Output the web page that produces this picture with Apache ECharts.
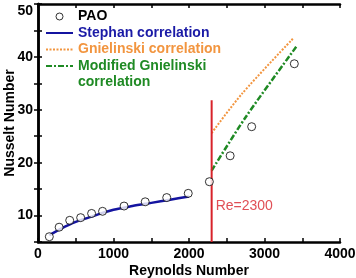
<!DOCTYPE html>
<html>
<head>
<meta charset="utf-8">
<script src="https://cdn.jsdelivr.net/npm/echarts@6/dist/echarts.min.js"></script>
<style>
  html, body { margin: 0; padding: 0; background: #fff; }
  #chart { width: 356px; height: 278px; }
</style>
</head>
<body>
<div id="chart"></div>
<script>
// PAO measurements
var rePAO = [150, 280, 420, 565, 710, 855, 1140, 1420, 1705, 1990, 2270, 2545, 2830, 3395];
var nuPAO = [6.0, 7.8, 9.1, 9.6, 10.4, 10.8, 11.8, 12.6, 13.4, 14.2, 16.4, 21.3, 26.8, 38.7];

// Stephan correlation (laminar)
var reStephan = [150, 300, 500, 750, 1000, 1250, 1500, 1750, 2000];
var nuStephan = [6.3, 7.5, 8.8, 10.0, 11.1, 11.8, 12.4, 13.0, 13.6];

// Gnielinski correlation
var reGniel = [2300, 2700, 3380];
var nuGniel = [25.6, 33.0, 43.5];

// Modified Gnielinski correlation
var reModGniel = [2300, 2750, 3420];
var nuModGniel = [18.5, 28.6, 41.9];

// transition line
var reTransition = 2300;
var transitionRange = [5, 31.8];
var transitionLabelAt = 11.8;

var FONT = 'Liberation Sans, Arial, Helvetica, sans-serif';

function zip(xs, ys) {
	var out = [];
	for (var i = 0; i < xs.length; i++) {
		out.push([xs[i], ys[i]]);
	}
	return out;
}

var boxLine = { lineStyle: { color: '#000', width: 2.5 } };
var boxTick = { show: true, inside: true, length: 4, lineStyle: { color: '#000', width: 1.5 } };
var legendText = { fontSize: 14, fontWeight: 'bold', fontFamily: FONT, lineHeight: 16.5 };
var hideSymbol = { opacity: 0 };

var chart = echarts.init(document.getElementById('chart'));

var option = {
	animation: false,
	backgroundColor: '#fff',
	grid: { left: 38, right: 16, top: 4, bottom: 36, containLabel: false, outerBoundsMode: 'none' },
	legend: [
		{
			orient: 'vertical', left: 45, top: 8.25, padding: 0, itemGap: 0,
			itemWidth: 27, itemHeight: 7,
			textStyle: legendText,
			data: [
				{ name: 'PAO', icon: 'circle', itemStyle: { color: '#fff', borderColor: '#000', borderWidth: 1 }, textStyle: { color: '#000' } },
				{ name: 'Stephan correlation', itemStyle: hideSymbol, textStyle: { color: '#1a1aa6' } },
				{ name: 'Gnielinski correlation', itemStyle: hideSymbol, textStyle: { color: '#f2953f' } }
			]
		},
		{
			// leading blank line keeps the first text line level with the icon
			orient: 'vertical', left: 45, top: 41.25, padding: 0, itemGap: 0,
			itemWidth: 27, itemHeight: 7,
			formatter: '\nModified Gnielinski\ncorrelation',
			textStyle: legendText,
			data: [
				{ name: 'Modified Gnielinski correlation', itemStyle: hideSymbol, textStyle: { color: '#1f8a24' } }
			]
		}
	],
	xAxis: [
		{
			type: 'value', position: 'bottom', min: 0, max: 4000, interval: 500,
			axisLine: boxLine, axisTick: boxTick, splitLine: { show: false },
			axisLabel: {
				margin: 5,
				formatter: function (v) { return v % 1000 === 0 ? String(v) : ''; },
				color: '#000', fontSize: 14, fontWeight: 'bold', fontFamily: FONT
			},
			name: 'Reynolds Number', nameLocation: 'middle', nameGap: 22, nameMoveOverlap: false,
			nameTextStyle: { color: '#000', fontSize: 14, fontWeight: 'bold', fontFamily: FONT }
		},
		{
			type: 'value', position: 'top', min: 0, max: 4000, interval: 500,
			axisLine: boxLine, axisTick: boxTick, splitLine: { show: false },
			axisLabel: { show: false }
		}
	],
	yAxis: [
		{
			type: 'value', position: 'left', min: 5, max: 50, interval: 5,
			axisLine: boxLine, axisTick: boxTick, splitLine: { show: false },
			axisLabel: {
				margin: 5,
				verticalAlignMaxLabel: 'top',
				formatter: function (v) { return v % 10 === 0 ? String(v) : ''; },
				color: '#000', fontSize: 14, fontWeight: 'bold', fontFamily: FONT
			},
			name: 'Nusselt Number', nameLocation: 'middle', nameGap: 21, nameMoveOverlap: false,
			nameTextStyle: { color: '#000', fontSize: 14, fontWeight: 'bold', fontFamily: FONT }
		},
		{
			type: 'value', position: 'right', min: 5, max: 50, interval: 5,
			axisLine: boxLine, axisTick: boxTick, splitLine: { show: false },
			axisLabel: { show: false }
		}
	],
	series: [
		{
			name: 'Stephan correlation', type: 'line', smooth: 0.3, symbol: 'none', z: 2,
			color: '#1414a0',
			lineStyle: { color: '#1414a0', width: 2.5 },
			data: zip(reStephan, nuStephan)
		},
		{
			name: 'Gnielinski correlation', type: 'line', smooth: 0.3, symbol: 'none', z: 2,
			color: '#f2953f',
			lineStyle: { color: '#f2953f', width: 2, type: [2, 1.5] },
			data: zip(reGniel, nuGniel)
		},
		{
			name: 'Modified Gnielinski correlation', type: 'line', smooth: 0.3, symbol: 'none', z: 2,
			color: '#1f8a24',
			lineStyle: { color: '#1f8a24', width: 2.5, type: [6, 2, 2, 2] },
			data: zip(reModGniel, nuModGniel)
		},
		{
			name: 'transition', type: 'line', symbol: 'none', z: 2,
			lineStyle: { color: '#d8232a', width: 2 },
			data: [[reTransition, transitionRange[0]], [reTransition, transitionRange[1]]]
		},
		{
			name: 'transitionLabel', type: 'scatter', symbolSize: 0, z: 4,
			label: {
				show: true, position: 'right', distance: 4,
				formatter: 'Re=' + reTransition,
				color: '#d8232a', fontSize: 14, fontFamily: FONT
			},
			data: [[reTransition, transitionLabelAt]]
		},
		{
			name: 'PAO', type: 'scatter', symbol: 'circle', symbolSize: 8, z: 5,
			itemStyle: { color: '#fff', borderColor: '#000', borderWidth: 1 },
			data: zip(rePAO, nuPAO)
		}
	]
};

chart.setOption(option);
</script>
</body>
</html>
